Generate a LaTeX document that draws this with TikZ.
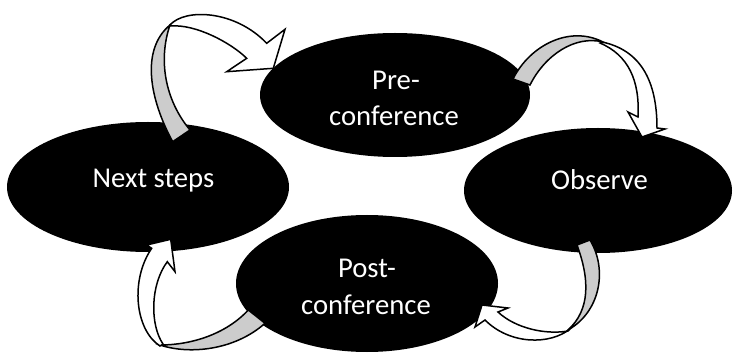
\documentclass[tikz,border=0pt]{standalone}
\usepackage{fontspec}
\setmainfont{Carlito}
\usetikzlibrary{shapes.geometric}
\begin{document}
\begin{tikzpicture}[x=1pt,y=-1pt,
  blob/.style={ellipse,fill=black,draw=none,inner sep=0pt},
  lbl/.style={text=white,font=\fontsize{28.7}{35}\selectfont,anchor=base,inner sep=0pt},
  back/.style={fill=black!20,draw=black,line width=1.5pt,line join=miter},
  front/.style={fill=white,draw=black,line width=1.5pt,line join=miter}]
\useasboundingbox (0,0) rectangle (734,358);
% ellipses
\node[blob,minimum width=270pt,minimum height=124pt] (pre) at (395,95) {};
\node[blob,minimum width=282pt,minimum height=130pt] (next) at (148,187) {};
\node[blob,minimum width=268pt,minimum height=125pt] (obs) at (598,190.5) {};
\node[blob,minimum width=262pt,minimum height=137pt] (post) at (367,283.5) {};
% labels
\node[lbl] (preA) at (396,90) {Pre-};
\node[lbl] (preB) at (394,126) {conference};
\node[lbl] (nextA) at (153.5,187.3) {Next steps};
\node[lbl] (obsA) at (599.5,190) {Observe};
\node[lbl] (postA) at (367,277.3) {Post-};
\node[lbl] (postB) at (366,314) {conference};
% arrow 1: next steps -> pre-conference
\path[back] (172.7,141.7) .. controls (150,100) and (140,50) .. (170,25)
  .. controls (158,60) and (165,100) .. (190,130) -- cycle;
\path[front] (170,25) .. controls (185,8) and (235,10) .. (266.7,43.3)
  -- (285,29.3) -- (273.3,68.3) -- (226.7,71.7) -- (246.7,58.3)
  .. controls (230,42) and (195,24) .. (171,26) -- cycle;
% arrow 2: pre-conference -> observe
\path[back] (513,79) .. controls (530,45) and (570,25) .. (603,42)
  .. controls (575,35) and (545,55) .. (530,85) -- cycle;
\path[front] (602,42) .. controls (640,50) and (657,80) .. (657,128)
  -- (665,129) -- (642,137) -- (628,112) -- (638,117)
  .. controls (640,80) and (628,55) .. (600,43) -- cycle;
% arrow 3: observe -> post-conference
\path[back] (577,245) .. controls (590,280) and (590,310) .. (568,330)
  .. controls (600,312) and (608,270) .. (590,240) -- cycle;
\path[front] (570,329) .. controls (550,345) and (510,345) .. (485,320)
  -- (475,327) -- (482,305) -- (508,308) -- (498,312)
  .. controls (515,328) and (545,335) .. (568,331) -- cycle;
% arrow 4: post-conference -> next steps
\path[back] (248.3,310) .. controls (225,335) and (190,345) .. (160,345)
  .. controls (190,355) and (235,350) .. (265,323.3) -- cycle;
\path[front] (160,346) .. controls (135,330) and (130,280) .. (151.7,248.3)
  -- (146.7,245) -- (170.7,239.3) -- (175,271.7) -- (167.3,261.7)
  .. controls (150,285) and (150,325) .. (163,344) -- cycle;
\end{tikzpicture}
\end{document}
